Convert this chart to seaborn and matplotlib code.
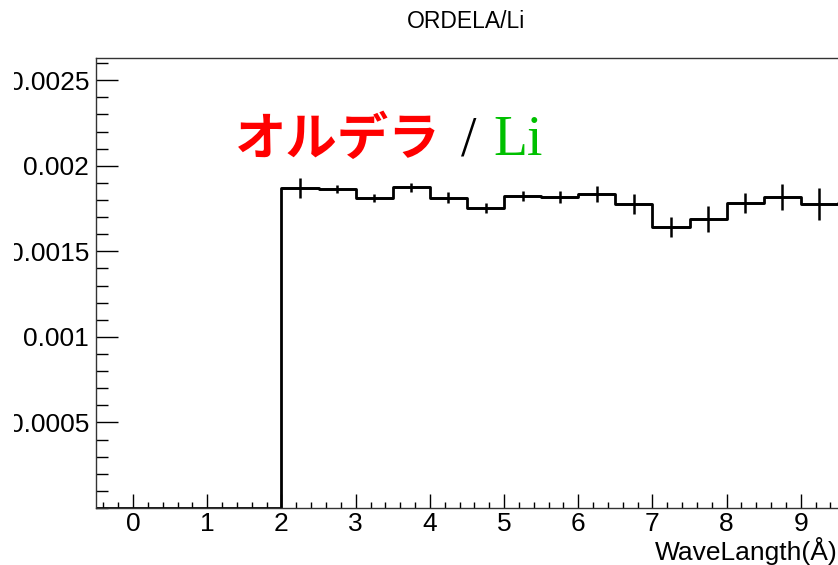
import numpy as np
import pandas as pd
import matplotlib
matplotlib.use("Agg")
import matplotlib.pyplot as plt
import seaborn as sns
from matplotlib.ticker import FixedLocator, FixedFormatter, MultipleLocator
from matplotlib.patches import Rectangle

# ---- data ----
bin_lows = [-0.5, 0.0, 0.5, 1.0, 1.5, 2.0, 2.5, 3.0, 3.5, 4.0, 4.5,
            5.0, 5.5, 6.0, 6.5, 7.0, 7.5, 8.0, 8.5, 9.0, 9.5]
bin_width = 0.5
counts = [0, 0, 0, 0, 0,
          0.001869, 0.001865, 0.001814, 0.001875, 0.001814, 0.001753,
          0.001826, 0.001817, 0.001834, 0.001779, 0.001642, 0.001688,
          0.001785, 0.001820, 0.001778, 0.001780]
errors = [0, 0, 0, 0, 0,
          0.000058, 0.000025, 0.000023, 0.000027, 0.000034, 0.000029,
          0.000029, 0.000035, 0.000046, 0.000058, 0.000058, 0.000076,
          0.000058, 0.000076, 0.000093, 0.000090]
xtick_vals = [0, 1, 2, 3, 4, 5, 6, 7, 8, 9]
xtick_labels = ["0", "1", "2", "3", "4", "5", "6", "7", "8", "9"]
ytick_vals = [0.0005, 0.001, 0.0015, 0.002, 0.0025]
ytick_labels = ["0.0005", "0.001", "0.0015", "0.002", "0.0025"]
title = "ORDELA/Li"
xlabel = "WaveLangth(Å)"

df = pd.DataFrame({"low": bin_lows, "count": counts, "err": errors})
df["center"] = df["low"] + bin_width / 2
edges = list(df["low"]) + [df["low"].iloc[-1] + bin_width]

sns.set_theme(style="white")
plt.rcParams["font.family"] = ["Liberation Sans", "DejaVu Sans"]
plt.rcParams["text.color"] = "black"
plt.rcParams["xtick.labelcolor"] = "black"
plt.rcParams["ytick.labelcolor"] = "black"

W, H = 838, 565
fig = plt.figure(figsize=(W / 100, H / 100), dpi=100)
ax = fig.add_axes([96 / W, 57 / H, 779 / W, 450 / H])

sns.histplot(data=df, x="center", weights="count", bins=edges,
             element="step", fill=False, color="black", linewidth=2, ax=ax)

nz = df[df["count"] > 0]
ax.errorbar(nz["center"], nz["count"], yerr=nz["err"], xerr=bin_width / 2,
            fmt="none", ecolor="black", elinewidth=1.8, capsize=0)

ax.set_xlim(-0.5, 10.0)
ax.set_ylim(0, 0.00263)
ax.xaxis.set_major_locator(FixedLocator(xtick_vals))
ax.xaxis.set_major_formatter(FixedFormatter(xtick_labels))
ax.xaxis.set_minor_locator(MultipleLocator(0.2))
ax.yaxis.set_major_locator(FixedLocator(ytick_vals))
ax.yaxis.set_major_formatter(FixedFormatter(ytick_labels))
ax.yaxis.set_minor_locator(MultipleLocator(0.0001))

ax.tick_params(axis="x", which="major", direction="in", length=10, width=1,
               color="black", labelcolor="black", labelsize=19, pad=3,
               bottom=True, top=False)
ax.tick_params(axis="x", which="minor", direction="in", length=4.5, width=1,
               color="black", bottom=True, top=False)
ax.tick_params(axis="y", which="major", direction="in", length=16, width=1,
               color="black", labelcolor="black", labelsize=19, pad=5,
               left=True, right=False)
ax.tick_params(axis="y", which="minor", direction="in", length=8.5, width=1,
               color="black", left=True, right=False)
for s in ax.spines.values():
    s.set_color("#333333")
    s.set_linewidth(1)
    s.set_visible(True)
ax.set_xlabel("")
ax.set_ylabel("")

fig.text(465.5 / W, 1 - 28.3 / H, title, ha="center", va="baseline",
         fontsize=16.5, color="black")
fig.text(838 / W, 1 - 560 / H, xlabel, ha="right", va="baseline",
         fontsize=19, color="black")

base = 1 - 155 / H
fig.text(235 / W, base, "オルデラ", ha="left", va="baseline", fontsize=37,
         color="#ff0000", fontweight="bold",
         family=["Noto Sans CJK JP", "DejaVu Sans"])
fig.text(461 / W, base, "/", ha="left", va="baseline", fontsize=40,
         color="black", family=["Liberation Serif", "DejaVu Serif"])
fig.text(493 / W, base, "Li", ha="left", va="baseline", fontsize=40,
         color="#00c000", family=["Liberation Serif", "DejaVu Serif"])

# white strip over the cropped left edge, as in the screenshot
fig.patches.append(Rectangle((0, 0), 14 / W, 1, transform=fig.transFigure,
                             facecolor="white", edgecolor="none", zorder=10))

fig.savefig("out.png", dpi=100)
